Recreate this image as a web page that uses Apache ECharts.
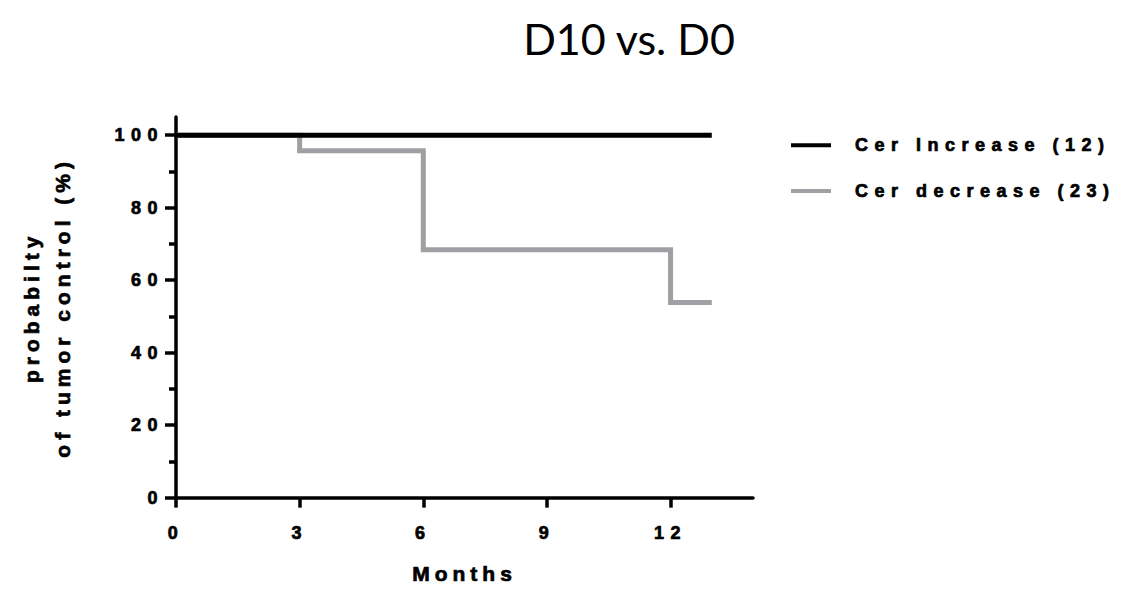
<!DOCTYPE html>
<html>
<head>
<meta charset="utf-8">
<script src="https://cdn.jsdelivr.net/npm/echarts@6/dist/echarts.min.js"></script>
<style>
	html, body { margin: 0; padding: 0; background: #fff; }
	#chart { width: 1147px; height: 589px; }
	/* GraphPad style wide tracking on the bold labels */
	#chart text[style*="bold"] { letter-spacing: 6.5px; }
	#chart text[style*="bold"][style*="21px"] { letter-spacing: 5px; }
</style>
</head>
<body>
<div id="chart"></div>
<script>
	// x ticks (months) and y ticks (%)
	var monthTicks = [0, 3, 6, 9, 12];
	var pctTicks = [0, 20, 40, 60, 80, 100];
	var pctMinorTicks = [10, 30, 50, 70, 90];

	var seriesNames = ['Cer Increase (12)', 'Cer decrease (23)'];
	// Kaplan-Meier steps: [month, probability]
	var cerIncrease = [[0, 100], [13, 100]];
	var cerDecrease = [[0, 100], [3, 95.7], [6, 68.4], [12, 53.8], [13, 53.8]];

	var chart = echarts.init(document.getElementById('chart'), null, { renderer: 'svg' });

	// heavier look of the GraphPad bold labels
	var labelFont = {
		fontFamily: 'Liberation Sans',
		fontWeight: 'bold',
		fontSize: 18,
		color: '#000',
		textBorderColor: '#000',
		textBorderWidth: 0.7
	};
	var nameFont = {
		fontFamily: 'Liberation Sans',
		fontWeight: 'bold',
		fontSize: 21,
		color: '#000',
		textBorderColor: '#000',
		textBorderWidth: 0.7
	};

	var option = {
		animation: false,
		title: {
			text: 'D10 vs. D0',
			left: 624,
			top: 12,
			textAlign: 'center',
			textStyle: {
				fontFamily: 'Lato',
				fontWeight: 'normal',
				fontSize: 43,
				color: '#000'
			}
		},
		legend: {
			data: seriesNames,
			orient: 'vertical',
			left: 791,
			top: 136,
			padding: 0,
			itemWidth: 40,
			itemHeight: 4,
			itemGap: 27,
			icon: 'rect',
			textStyle: Object.assign({ padding: [0, 0, 0, 19] }, labelFont)
		},
		grid: {
			left: 176,
			right: 394,
			top: 117,
			bottom: 88
		},
		xAxis: {
			type: 'value',
			min: 0,
			max: 14,
			interval: 3,
			name: 'Months',
			nameLocation: 'middle',
			nameGap: 65,
			nameTextStyle: nameFont,
			splitLine: { show: false },
			axisLine: { lineStyle: { color: '#000', width: 3.5 } },
			axisTick: {
				customValues: monthTicks,
				length: 10,
				lineStyle: { color: '#000', width: 3.5 }
			},
			axisLabel: Object.assign({ customValues: monthTicks, margin: 26 }, labelFont)
		},
		yAxis: [{
			type: 'value',
			min: 0,
			max: 105,
			interval: 20,
			position: 'left',
			name: 'probabilty\nof tumor control (%)',
			nameLocation: 'middle',
			nameRotate: 90,
			nameGap: 98,
			nameTextStyle: Object.assign({ lineHeight: 31 }, nameFont),
			splitLine: { show: false },
			axisLine: { lineStyle: { color: '#000', width: 3.5 } },
			axisTick: {
				customValues: pctTicks,
				length: 11,
				lineStyle: { color: '#000', width: 3.5 }
			},
			axisLabel: Object.assign({ customValues: pctTicks, margin: 12 }, labelFont)
		}, {
			// only carries the short minor ticks
			type: 'value',
			min: 0,
			max: 105,
			interval: 20,
			position: 'left',
			splitLine: { show: false },
			axisLine: { show: false },
			axisTick: {
				customValues: pctMinorTicks,
				length: 7,
				lineStyle: { color: '#000', width: 3.5 }
			},
			axisLabel: { show: false }
		}],
		series: [{
			name: seriesNames[1],
			type: 'line',
			step: 'end',
			showSymbol: false,
			symbol: 'none',
			color: '#a0a0a4',
			lineStyle: { width: 5, color: '#a0a0a4', cap: 'butt', join: 'miter' },
			data: cerDecrease
		}, {
			name: seriesNames[0],
			type: 'line',
			step: 'end',
			showSymbol: false,
			symbol: 'none',
			color: '#000',
			lineStyle: { width: 5, color: '#000', cap: 'butt' },
			data: cerIncrease
		}]
	};

	chart.setOption(option);
</script>
</body>
</html>
